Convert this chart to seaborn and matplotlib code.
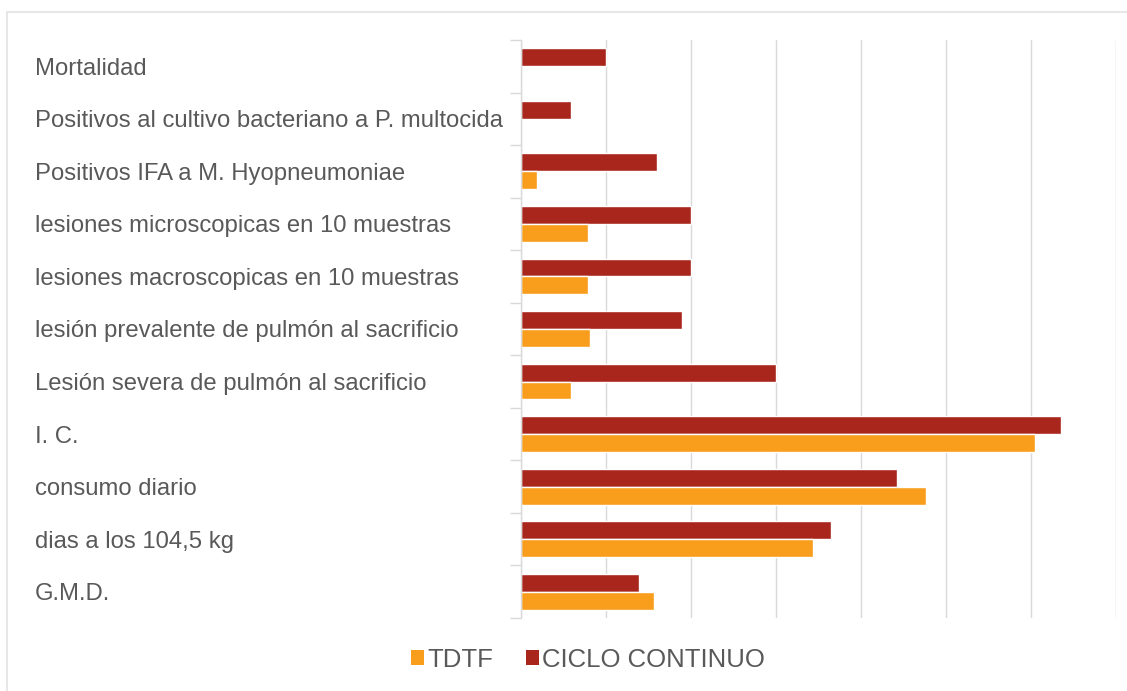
import matplotlib
matplotlib.use("Agg")
import matplotlib.pyplot as plt
from matplotlib.patches import Rectangle, Patch
from matplotlib.ticker import FixedLocator
import seaborn as sns
import pandas as pd

categories = [
    "Mortalidad",
    "Positivos al cultivo bacteriano a P. multocida",
    "Positivos IFA a M. Hyopneumoniae",
    "lesiones microscopicas en 10 muestras",
    "lesiones macroscopicas en 10 muestras",
    "lesión prevalente de pulmón al sacrificio",
    "Lesión severa de pulmón al sacrificio",
    "I. C.",
    "consumo diario",
    "dias a los 104,5 kg",
    "G.M.D.",
]
ciclo_continuo = [1.0, 0.59, 1.6, 2.0, 2.0, 1.89, 3.0, 6.35, 4.42, 3.65, 1.39]
tdtf = [0.0, 0.0, 0.19, 0.79, 0.79, 0.81, 0.59, 6.05, 4.77, 3.43, 1.57]
series_names = ["TDTF", "CICLO CONTINUO"]

C_TDTF = "#F99D1C"
C_CC = "#A9261D"
TEXT = "#595959"
GRID = "#D9D9D9"

df = pd.DataFrame({
    "cat": categories * 2,
    "val": ciclo_continuo + tdtf,
    "serie": ["CICLO CONTINUO"] * len(categories) + ["TDTF"] * len(categories),
})

sns.set_theme(style="white")
plt.rcParams["font.family"] = ["Liberation Sans", "DejaVu Sans"]

fig = plt.figure(figsize=(11.27, 6.91), dpi=100)
ax = fig.add_axes([521 / 1127, 1 - 618 / 691, (1116 - 521) / 1127, (618 - 40) / 691])

sns.barplot(data=df, y="cat", x="val", hue="serie", order=categories,
            hue_order=["CICLO CONTINUO", "TDTF"],
            palette={"CICLO CONTINUO": C_CC, "TDTF": C_TDTF},
            orient="h", width=0.68, gap=0, ax=ax, legend=False, saturation=1)

ax.set_xlim(0, 7)
ax.set_ylim(len(categories) - 0.5, -0.5)
ax.set_xticks(range(0, 8))
ax.set_xticklabels([])
ax.grid(axis="x", color=GRID, linewidth=1)
ax.set_axisbelow(True)
ax.set_xlabel("")
ax.set_ylabel("")
for s in ["top", "right", "bottom"]:
    ax.spines[s].set_visible(False)
ax.spines["left"].set_color(GRID)
ax.spines["left"].set_linewidth(1)

ax.tick_params(axis="x", length=0)
ax.tick_params(axis="y", which="major", length=0, pad=350, labelsize=17.2, labelcolor=TEXT)
for lab in ax.get_yticklabels():
    lab.set_horizontalalignment("left")
ax.yaxis.set_minor_locator(FixedLocator([i - 0.5 for i in range(len(categories) + 1)]))
ax.tick_params(axis="y", which="minor", left=True, length=8, width=1, color=GRID)

handles = [Patch(facecolor=C_TDTF, edgecolor="none"), Patch(facecolor=C_CC, edgecolor="none")]
fig.legend(handles, series_names, loc="center", bbox_to_anchor=(588 / 1127, 1 - 660 / 691),
           ncol=2, frameon=False, fontsize=18.5, labelcolor=TEXT,
           handlelength=0.52, handleheight=0.52, handletextpad=0.12, columnspacing=1.25)

fig.patches.append(Rectangle((7 / 1127, -0.1), 1.2, 1 - 12 / 691 + 0.1,
                             transform=fig.transFigure, fill=False,
                             edgecolor="#E3E3E3", linewidth=1.2))

fig.savefig("out.png", dpi=100)
